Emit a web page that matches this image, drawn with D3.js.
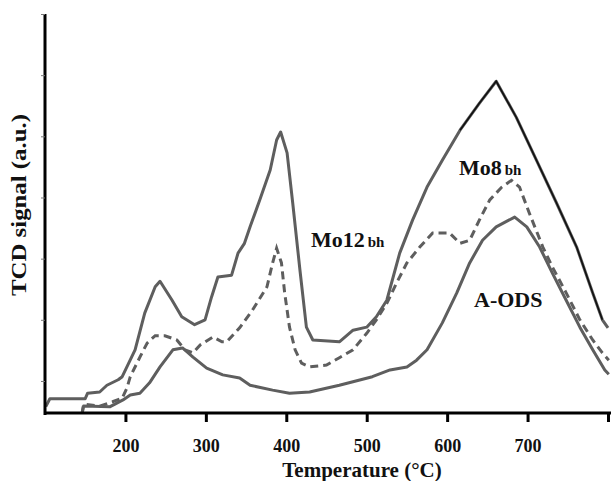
<!DOCTYPE html>
<html>
<head>
<meta charset="utf-8">
<script src="https://cdn.jsdelivr.net/npm/d3@7"></script>
<style>
  body { margin: 0; background: #fff; }
</style>
</head>
<body>
<script>
// temperature (°C) and TCD signal (a.u.)
var mo12T = [101,106,150,153,168,177,191,196,212,224,237,243,258,270,286,299,307,315,332,340,348,355,367,380,388,393,401,408,417,425,433,466,483,500,512,525,541,557,575,594,616,640,661,686,711,736,761,781,793,800];
var mo12V = [-0.42,-0.29,-0.29,-0.2,-0.18,-0.07,0.02,0.07,0.51,1.11,1.54,1.63,1.32,1.05,0.92,1.0,1.37,1.7,1.73,2.09,2.25,2.52,2.96,3.45,3.94,4.07,3.73,2.91,1.81,0.88,0.67,0.64,0.83,0.88,1.05,1.32,2.09,2.63,3.17,3.61,4.1,4.54,4.9,4.31,3.61,2.91,2.19,1.44,1.0,0.87];

var mo8T = [146,148,168,184,196,202,206,218,227,237,249,264,274,284,293,309,320,326,342,358,376,383,388,394,398,404,411,419,429,450,466,483,500,512,525,537,550,566,582,603,616,628,640,653,668,680,690,702,719,731,748,765,781,793,801];
var mo8V = [-0.54,-0.38,-0.41,-0.34,-0.28,-0.11,0.07,0.39,0.62,0.74,0.74,0.67,0.51,0.46,0.59,0.72,0.64,0.64,0.87,1.16,1.54,1.93,2.17,1.93,1.44,0.88,0.51,0.29,0.23,0.26,0.38,0.51,0.78,1.0,1.27,1.6,1.93,2.19,2.42,2.42,2.25,2.3,2.63,2.96,3.17,3.28,3.17,2.75,2.19,1.86,1.44,1.0,0.67,0.46,0.34];

var odsT = [146,148,181,197,206,218,230,243,259,271,284,301,321,342,355,383,404,429,466,507,529,550,562,575,594,612,628,644,661,684,699,715,731,748,765,781,796,801];
var odsV = [-0.54,-0.41,-0.42,-0.31,-0.23,-0.2,-0.03,0.23,0.51,0.54,0.39,0.21,0.1,0.05,-0.07,-0.15,-0.2,-0.18,-0.07,0.07,0.18,0.23,0.34,0.51,0.95,1.44,1.93,2.3,2.52,2.68,2.52,2.19,1.76,1.32,0.88,0.51,0.18,0.11];

var xTicks = [200, 300, 400, 500, 600, 700, 800];
var yTicks = [0, 1, 2, 3, 4, 5, 6];

var W = 611, H = 481,
	pLeft = 45, pRight = 608, pTop = 14, pBottom = 414,
	grey = '#5e5e5e',
	serif = '"Liberation Serif", "Times New Roman", serif';

var svg = d3.select('body').append('svg')
	.attr('width', W)
	.attr('height', H);

var x = d3.scaleLinear().domain([100, 800]).range([pLeft, pRight]);
var y = d3.scaleLinear().domain([-0.54, 6]).range([pBottom, pTop]);

function pts(ts, vs) {
	return ts.map(function(t, i) { return [t, vs[i]]; });
}

var line = d3.line()
	.x(function(d) { return x(d[0]); })
	.y(function(d) { return y(d[1]); });

svg.append('clipPath').attr('id', 'plot')
	.append('rect')
	.attr('x', pLeft).attr('y', 0)
	.attr('width', W - pLeft).attr('height', pBottom);

var g = svg.append('g').attr('clip-path', 'url(#plot)');

g.append('path')
	.datum(pts(odsT, odsV))
	.attr('d', line)
	.attr('fill', 'none')
	.attr('stroke', grey)
	.attr('stroke-width', 3)
	.attr('stroke-linejoin', 'round');

g.append('path')
	.datum(pts(mo8T, mo8V))
	.attr('d', line)
	.attr('fill', 'none')
	.attr('stroke', grey)
	.attr('stroke-width', 3)
	.attr('stroke-dasharray', '8,5');

g.append('path')
	.datum(pts(mo12T, mo12V))
	.attr('d', line)
	.attr('fill', 'none')
	.attr('stroke', grey)
	.attr('stroke-width', 3)
	.attr('stroke-linejoin', 'round');

// dark overlay on the top of the big peak
g.append('path')
	.datum(pts(mo12T, mo12V).filter(function(d) { return d[0] >= 616 && d[0] <= 793; }))
	.attr('d', line)
	.attr('fill', 'none')
	.attr('stroke', '#111')
	.attr('stroke-width', 1.6);

// x axis
var xAxis = svg.append('g')
	.attr('transform', 'translate(0,' + (pBottom - 1) + ')')
	.call(d3.axisBottom(x).tickValues(xTicks).tickSize(9).tickSizeOuter(0).tickPadding(17));
xAxis.select('.domain').attr('stroke-width', 3).attr('d', 'M' + pLeft + ',0H' + W);
xAxis.selectAll('.tick line').attr('stroke-width', 3);
xAxis.selectAll('.tick text')
	.text(function(d) { return d === 800 ? '' : d; })
	.attr('font-family', serif)
	.attr('font-weight', 'bold')
	.attr('font-size', 18)
	.attr('fill', '#111');

// y axis
var yAxis = svg.append('g')
	.attr('transform', 'translate(' + pLeft + ',0)')
	.call(d3.axisLeft(y).tickValues(yTicks).tickSize(4).tickSizeOuter(0).tickFormat(''));
yAxis.select('.domain').attr('stroke-width', 3).attr('d', 'M0,' + pTop + 'V' + (pBottom + 1));
yAxis.selectAll('.tick line').attr('stroke', '#777').attr('stroke-width', 1);

// axis titles
svg.append('text')
	.text('Temperature (°C)')
	.attr('x', 362)
	.attr('y', 477)
	.attr('text-anchor', 'middle')
	.attr('font-family', serif)
	.attr('font-weight', 'bold')
	.attr('font-size', 21)
	.attr('fill', '#111');

svg.append('text')
	.text('TCD signal (a.u.)')
	.attr('transform', 'translate(26,205) rotate(-90)')
	.attr('text-anchor', 'middle')
	.attr('font-family', serif)
	.attr('font-weight', 'bold')
	.attr('font-size', 21)
	.attr('textLength', 182)
	.attr('lengthAdjust', 'spacingAndGlyphs')
	.attr('fill', '#111');

// series labels
function label(xp, yp, main, sub) {
	var t = svg.append('text')
		.attr('x', xp)
		.attr('y', yp)
		.attr('font-family', serif)
		.attr('font-weight', 'bold')
		.attr('fill', '#111');
	t.append('tspan').text(main).attr('font-size', 22);
	if (sub) t.append('tspan').text(sub).attr('font-size', 15).attr('dx', 3);
}
label(311, 247, 'Mo12', 'bh');
label(459, 175, 'Mo8', 'bh');
label(474, 307, 'A-ODS', null);
</script>
</body>
</html>
